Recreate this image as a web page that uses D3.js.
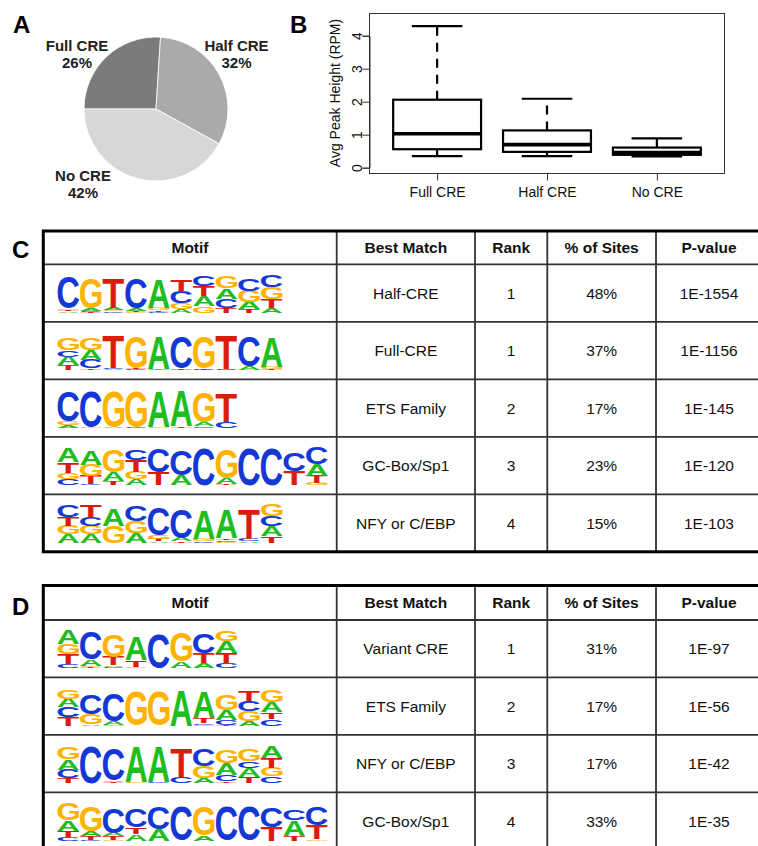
<!DOCTYPE html>
<html lang="en">
<head>
<meta charset="UTF-8">
<title>CRE motif figure</title>
<style>
  body { margin: 0; background: #fff; }
  svg { display: block; font-family: "Liberation Sans", Arial, sans-serif; }
</style>
</head>
<body>
<script src="https://d3js.org/d3.v7.min.js"></script>
<script>
// ---- panel A: pie
const pieLabels = ["Full CRE", "Half CRE", "No CRE"];
const piePercents = [26, 32, 42];

// ---- panel B: box plot (RPM)
const boxGroups = ["Full CRE", "Half CRE", "No CRE"];
const boxLow = [0.35, 0.35, 0.34];
const boxQ1 = [0.56, 0.48, 0.39];
const boxMedian = [1.03, 0.70, 0.46];
const boxQ3 = [2.06, 1.13, 0.61];
const boxHigh = [4.29, 2.09, 0.89];
const yTicks = [0, 1, 2, 3, 4];

// ---- tables C and D
const headers = ["Motif", "Best Match", "Rank", "% of Sites", "P-value"];
const cMatch = ["Half-CRE", "Full-CRE", "ETS Family", "GC-Box/Sp1", "NFY or C/EBP"];
const cRank = [1, 1, 2, 3, 4];
const cSites = ["48%", "37%", "17%", "23%", "15%"];
const cPval = ["1E-1554", "1E-1156", "1E-145", "1E-120", "1E-103"];
const dMatch = ["Variant CRE", "ETS Family", "NFY or C/EBP", "GC-Box/Sp1"];
const dRank = [1, 2, 3, 4];
const dSites = ["31%", "17%", "17%", "33%"];
const dPval = ["1E-97", "1E-56", "1E-42", "1E-35"];

// sequence logos: each position lists [letter, bits] from top to bottom
const logoC1 = [
  [["C", 1.68], ["G", .09], ["T", .07], ["A", .07]],
  [["G", 1.59], ["A", .11], ["C", .07], ["T", .05]],
  [["T", 1.62], ["A", .11], ["G", .07], ["C", .07]],
  [["C", 1.62], ["A", .11], ["T", .07], ["G", .05]],
  [["A", 1.53], ["G", .11], ["T", .09], ["C", .05]],
  [["T", .63], ["C", .59], ["G", .36], ["A", .18]],
  [["C", .54], ["T", .54], ["A", .54], ["G", .36]],
  [["G", .63], ["A", .54], ["C", .49], ["T", .27]],
  [["C", .63], ["G", .59], ["A", .40], ["T", .18]],
  [["C", .59], ["G", .63], ["T", .45], ["A", .27]]
];
const logoC2 = [
  [["G", .63], ["C", .36], ["A", .45], ["T", .27]],
  [["G", .63], ["A", .54], ["C", .45], ["T", .09]],
  [["T", 1.75], ["C", .07], ["A", .05]],
  [["G", 1.71], ["T", .05], ["C", .05]],
  [["A", 1.71], ["G", .05], ["T", .04]],
  [["C", 1.71], ["T", .05], ["G", .04]],
  [["G", 1.71], ["C", .05], ["T", .04]],
  [["T", 1.80], ["C", .05], ["A", .04]],
  [["C", 1.62], ["A", .18], ["G", .04]],
  [["A", 1.62], ["G", .14], ["T", .05]]
];
const logoC3 = [
  [["C", 1.62], ["G", .22], ["A", .14]],
  [["C", 1.89], ["G", .04]],
  [["G", 1.89], ["A", .04]],
  [["G", 1.89], ["C", .04]],
  [["A", 1.89], ["G", .04]],
  [["A", 1.84], ["T", .07]],
  [["G", 1.62], ["A", .22], ["C", .07]],
  [["T", 1.53], ["C", .32]]
];
const logoC4 = [
  [["A", .72], ["T", .54], ["G", .36], ["C", .32]],
  [["A", .72], ["G", .59], ["T", .45], ["C", .05]],
  [["G", 1.17], ["A", .49], ["T", .22]],
  [["C", .54], ["T", .63], ["G", .40], ["A", .32]],
  [["C", 1.26], ["T", .68]],
  [["C", 1.35], ["A", .54]],
  [["C", 1.95]],
  [["G", 1.53], ["A", .31], ["T", .05]],
  [["C", 1.95]],
  [["C", 1.95]],
  [["C", .99], ["T", .77]],
  [["C", .90], ["A", .63], ["T", .40], ["G", .11]]
];
const logoC5 = [
  [["C", .63], ["T", .45], ["G", .45], ["A", .45]],
  [["T", .63], ["C", .50], ["G", .45], ["A", .45]],
  [["A", .90], ["G", .90]],
  [["C", .81], ["G", .63], ["A", .54]],
  [["C", 1.44], ["G", .18], ["T", .13], ["A", .07]],
  [["C", 1.53], ["A", .18], ["T", .07]],
  [["A", 1.53], ["G", .11], ["C", .09]],
  [["A", 1.53], ["T", .09], ["C", .09], ["G", .05]],
  [["T", 1.62], ["C", .11], ["A", .07]],
  [["G", .63], ["C", .54], ["A", .54], ["T", .36]]
];
const logoD1 = [
  [["A", .72], ["G", .54], ["T", .54], ["C", .23]],
  [["C", 1.44], ["A", .36], ["G", .07], ["T", .05]],
  [["G", 1.17], ["T", .45], ["A", .09], ["C", .07]],
  [["A", 1.26], ["T", .36], ["G", .07]],
  [["C", 1.80]],
  [["G", 1.53], ["A", .36]],
  [["C", 1.08], ["T", .54], ["A", .27]],
  [["G", .54], ["A", .63], ["T", .54], ["C", .27]]
];
const logoD2 = [
  [["G", .45], ["A", .45], ["C", .54], ["T", .45]],
  [["C", 1.08], ["G", .54], ["A", .09]],
  [["C", 1.44], ["A", .18], ["G", .05]],
  [["G", 1.80]],
  [["G", 1.80]],
  [["A", 1.89]],
  [["A", 1.35], ["T", .27], ["C", .09], ["G", .05]],
  [["G", .81], ["A", .54], ["C", .27], ["T", .05]],
  [["T", .54], ["C", .54], ["G", .54], ["A", .27]],
  [["G", .63], ["A", .54], ["T", .36], ["C", .36]]
];
const logoD3 = [
  [["G", .63], ["A", .54], ["C", .45], ["T", .27]],
  [["C", 1.98]],
  [["C", 1.71], ["A", .09], ["T", .07]],
  [["A", 1.89], ["G", .05]],
  [["A", 1.89], ["C", .05]],
  [["T", 1.53], ["C", .36]],
  [["C", .90], ["G", .63], ["A", .27]],
  [["G", .72], ["A", .63], ["C", .36], ["T", .09]],
  [["G", .63], ["C", .36], ["A", .45], ["T", .36]],
  [["A", .63], ["T", .54], ["G", .45], ["C", .36]]
];
const logoD4 = [
  [["G", .90], ["A", .54], ["T", .36], ["C", .18]],
  [["G", 1.35], ["A", .27], ["T", .18], ["C", .05]],
  [["C", 1.35], ["A", .18], ["T", .18], ["G", .05]],
  [["C", .99], ["T", .36], ["A", .36]],
  [["C", 1.17], ["A", .63]],
  [["C", 1.80]],
  [["G", 1.53], ["A", .27]],
  [["C", 1.80]],
  [["C", 1.80]],
  [["C", 1.08], ["T", .72]],
  [["C", .54], ["A", .81], ["T", .27]],
  [["C", .99], ["T", .72], ["G", .09]]
];
const cLogos = [logoC1, logoC2, logoC3, logoC4, logoC5];
const dLogos = [logoD1, logoD2, logoD3, logoD4];

// ---- drawing
const svg = d3.select("body").append("svg")
  .attr("width", 758)
  .attr("height", 846);

function panelLetter(t, x, y) {
  svg.append("text").attr("x", x).attr("y", y)
    .attr("font-size", 24).attr("font-weight", "bold").text(t);
}
panelLetter("A", 13, 33);
panelLetter("B", 290, 33);
panelLetter("C", 12, 258);
panelLetter("D", 12, 615);

// A: pie
var pie = d3.pie().sort(null)
  .startAngle(1.5 * Math.PI).endAngle(3.5 * Math.PI);
var arc = d3.arc().innerRadius(0).outerRadius(72);
var pieColor = d3.scaleOrdinal().domain(pieLabels).range(["#7b7b7b", "#aaaaaa", "#d7d7d7"]);
svg.append("g").attr("transform", "translate(156,109)")
  .selectAll("path")
  .data(pie(piePercents))
  .enter().append("path")
  .attr("d", arc)
  .attr("fill", (d, i) => pieColor(pieLabels[i]))
  .attr("stroke", "#fff")
  .attr("stroke-width", 0.8);

const pieLabelPos = [[77, 50.5], [236.5, 50.5], [83, 181]];
pieLabels.forEach(function(l, i) {
  var t = svg.append("text")
    .attr("text-anchor", "middle")
    .attr("font-size", 15).attr("font-weight", "bold")
    .attr("fill", "#222");
  t.append("tspan").attr("x", pieLabelPos[i][0]).attr("y", pieLabelPos[i][1]).text(l);
  t.append("tspan").attr("x", pieLabelPos[i][0]).attr("y", pieLabelPos[i][1] + 17).text(piePercents[i] + "%");
});

// B: box plot
var bx = d3.scaleLinear().domain([0.38, 3.62]).range([369, 725]);
var by = d3.scaleLinear().domain([0, 4]).range([167.7, 35.7]);
var bg = svg.append("g");
bg.append("rect")
  .attr("x", 369.5).attr("y", 13.5).attr("width", 355).attr("height", 160)
  .attr("fill", "none").attr("stroke", "#333").attr("stroke-width", 1);

var yAxis = d3.axisLeft(by).tickValues(yTicks).tickSize(7).tickFormat(d3.format("d"));
var ya = bg.append("g").attr("transform", "translate(369.5,0)").call(yAxis);
ya.select(".domain").attr("stroke", "#333");
ya.selectAll(".tick line").attr("stroke", "#333");
ya.selectAll(".tick text")
  .attr("x", 0).attr("y", 0).attr("dy", 0)
  .attr("transform", "translate(-8,0) rotate(-90)")
  .attr("text-anchor", "middle")
  .attr("font-size", 14).attr("font-family", "Liberation Sans, Arial, sans-serif")
  .attr("fill", "#111");

var xAxis = d3.axisBottom(bx).tickValues([1, 2, 3]).tickSize(7)
  .tickFormat(d => boxGroups[d - 1]);
var xa = bg.append("g").attr("transform", "translate(0,173.5)").call(xAxis);
xa.select(".domain").remove();
xa.selectAll(".tick line").attr("stroke", "#333");
xa.selectAll(".tick text")
  .attr("y", 23).attr("dy", 0)
  .attr("font-size", 14).attr("font-family", "Liberation Sans, Arial, sans-serif")
  .attr("fill", "#111");

bg.append("text")
  .attr("transform", "translate(340,93) rotate(-90)")
  .attr("text-anchor", "middle")
  .attr("font-size", 14).attr("fill", "#111")
  .text("Avg Peak Height (RPM)");

const boxHalf = 0.4, capHalf = 0.23;
boxGroups.forEach(function(g, i) {
  var c = i + 1;
  var grp = bg.append("g").attr("stroke", "#000").attr("fill", "none");
  // whiskers
  grp.append("line")
    .attr("x1", bx(c)).attr("x2", bx(c))
    .attr("y1", by(boxQ3[i])).attr("y2", by(boxHigh[i]))
    .attr("stroke-width", 2.2).attr("stroke-dasharray", "9,7");
  grp.append("line")
    .attr("x1", bx(c)).attr("x2", bx(c))
    .attr("y1", by(boxQ1[i])).attr("y2", by(boxLow[i]))
    .attr("stroke-width", 2.2).attr("stroke-dasharray", "9,7");
  [boxHigh[i], boxLow[i]].forEach(function(v) {
    grp.append("line")
      .attr("x1", bx(c - capHalf)).attr("x2", bx(c + capHalf))
      .attr("y1", by(v)).attr("y2", by(v))
      .attr("stroke-width", 2.2);
  });
  grp.append("rect")
    .attr("x", bx(c - boxHalf)).attr("width", bx(c + boxHalf) - bx(c - boxHalf))
    .attr("y", by(boxQ3[i])).attr("height", by(boxQ1[i]) - by(boxQ3[i]))
    .attr("fill", "#fff").attr("stroke-width", 2.2);
  grp.append("line")
    .attr("x1", bx(c - boxHalf)).attr("x2", bx(c + boxHalf))
    .attr("y1", by(boxMedian[i])).attr("y2", by(boxMedian[i]))
    .attr("stroke-width", 3.6);
});

// ---- logos
const letterColor = { A: "#1fbd1f", C: "#1438d6", G: "#ffb200", T: "#dc1c0a" };
const ctx = document.createElement("canvas").getContext("2d");
ctx.font = "bold 100px 'Liberation Sans'";
const glyph = {};
"ACGT".split("").forEach(function(l) {
  var m = ctx.measureText(l);
  glyph[l] = {
    x0: -m.actualBoundingBoxLeft, x1: m.actualBoundingBoxRight,
    y0: -m.actualBoundingBoxAscent, y1: m.actualBoundingBoxDescent
  };
});
const posW = 22.6;
var bits = d3.scaleLinear().domain([0, 2]).range([0, 37.5]);

function drawLogo(positions, x0, baseline) {
  var lg = svg.append("g");
  positions.forEach(function(stack, p) {
    var y = baseline;
    stack.slice().reverse().forEach(function(d) {
      var h = bits(d[1]);
      if (h < 0.3) { y -= h; return; }
      var gl = glyph[d[0]];
      var sx = (posW - 1) / (gl.x1 - gl.x0);
      var sy = h / (gl.y1 - gl.y0);
      lg.append("text")
        .attr("font-size", 100).attr("font-weight", "bold")
        .attr("font-family", "Liberation Sans")
        .attr("fill", letterColor[d[0]])
        .attr("transform", "translate(" + (x0 + p * posW + 0.5) + "," + (y - h) + ") scale(" + sx + "," + sy + ") translate(" + (-gl.x0) + "," + (-gl.y0) + ")")
        .text(d[0]);
      y -= h;
    });
  });
}

// ---- tables
const colEdges = [43.3, 336.7, 475, 547.3, 656, 762];

function drawTable(top, headBottom, bottom, rows, match, rank, sites, pval, logos) {
  var tg = svg.append("g");
  var ry = d3.scaleBand().domain(d3.range(rows)).range([headBottom, bottom]);
  var cx = i => (colEdges[i] + colEdges[i + 1]) / 2;

  // logos first, lines over them
  logos.forEach((lg, i) => drawLogo(lg, 57, ry(i) + ry.bandwidth() - 9));

  // inner grid
  colEdges.slice(1, 5).forEach(function(x) {
    tg.append("line").attr("x1", x).attr("x2", x).attr("y1", top).attr("y2", bottom)
      .attr("stroke", "#333").attr("stroke-width", 1.8);
  });
  [headBottom].concat(d3.range(1, rows).map(i => ry(i))).forEach(function(y) {
    tg.append("line").attr("x1", colEdges[0]).attr("x2", colEdges[5]).attr("y1", y).attr("y2", y)
      .attr("stroke", "#333").attr("stroke-width", 1.8);
  });
  tg.append("rect")
    .attr("x", colEdges[0]).attr("y", top)
    .attr("width", colEdges[5] - colEdges[0]).attr("height", bottom - top)
    .attr("fill", "none").attr("stroke", "#000").attr("stroke-width", 3);

  headers.forEach(function(h, i) {
    tg.append("text").attr("x", cx(i)).attr("y", (top + headBottom) / 2).attr("dy", "0.37em")
      .attr("text-anchor", "middle").attr("font-size", 15.5).attr("font-weight", "bold")
      .attr("fill", "#111").text(h);
  });
  var cols = [match, rank, sites, pval];
  cols.forEach(function(vals, c) {
    vals.forEach(function(v, r) {
      tg.append("text").attr("x", cx(c + 1)).attr("y", ry(r) + ry.bandwidth() / 2).attr("dy", "0.37em")
        .attr("text-anchor", "middle").attr("font-size", 15.5)
        .attr("fill", "#111").text(v);
    });
  });
}

drawTable(231, 264.3, 551.8, 5, cMatch, cRank, cSites, cPval, cLogos);
drawTable(585.5, 620, 849.7, 4, dMatch, dRank, dSites, dPval, dLogos);
</script>
</body>
</html>
